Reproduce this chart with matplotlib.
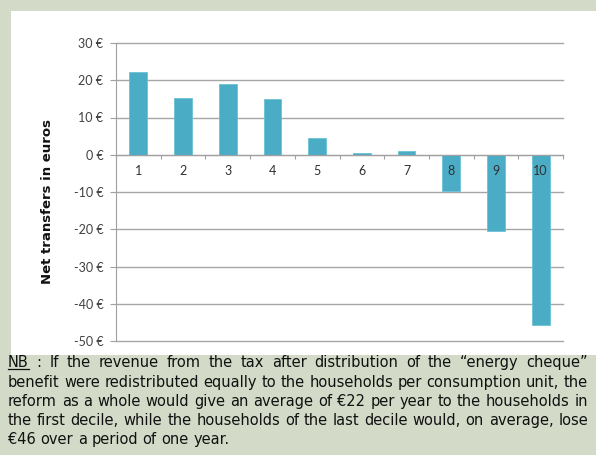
import matplotlib
matplotlib.use("Agg")
import matplotlib.pyplot as plt
from matplotlib.patches import Rectangle
from matplotlib.lines import Line2D

deciles = ["1", "2", "3", "4", "5", "6", "7", "8", "9", "10"]
transfers = [22.3, 15.3, 19.1, 15.1, 4.6, 0.5, 1.0, -9.7, -20.4, -45.8]
yticks = [30, 20, 10, 0, -10, -20, -30, -40, -50]
ylabels = [f"{v} €" for v in yticks]

caption = [
    "NB : If the revenue from the tax after distribution of the \u201cenergy cheque\u201d",
    "benefit were redistributed equally to the households per consumption unit, the",
    "reform as a whole would give an average of €22 per year to the households in",
    "the first decile, while the households of the last decile would, on average, lose",
    "€46 over a period of one year.",
]

W, H = 596, 455
fig = plt.figure(figsize=(W / 100, H / 100), dpi=100)
fig.patch.set_facecolor("#d3dbc8")

# white panel behind the chart
fig.patches.append(Rectangle((11 / W, 1 - 355 / H), 585 / W, 344 / H,
                             transform=fig.transFigure, facecolor="white",
                             edgecolor="none", zorder=-1))

ax = fig.add_axes([116 / W, 1 - 341 / H, 447 / W, 298 / H])
ax.set_zorder(2)
ax.set_facecolor("none")
x = list(range(1, len(deciles) + 1))
ax.bar(x, transfers, width=0.4, color="#4bacc6", edgecolor="#6cc0d6",
       linewidth=0.6, zorder=2)

ax.set_xlim(0.5, len(deciles) + 0.5)
ax.set_ylim(-50, 30)
ax.set_yticks(yticks)
ax.set_yticklabels(ylabels, fontfamily="Lato", fontsize=9, color="#404040")
ax.tick_params(axis="y", length=4, color="#a0a0a0", pad=5)
ax.yaxis.grid(True, color="#a6a6a6", linewidth=1)
for gl in ax.yaxis.get_gridlines():
    gl.set_clip_on(False)
ax.set_axisbelow(True)

for s in ["top", "right"]:
    ax.spines[s].set_visible(False)
ax.spines["left"].set_color("#a0a0a0")
ax.spines["bottom"].set_position(("data", 0))
ax.spines["bottom"].set_color("#a0a0a0")
ax.spines["bottom"].set_zorder(3)
ax.set_xticks([i + 0.5 for i in range(len(deciles) + 1)])
ax.set_xticklabels([])
ax.tick_params(axis="x", length=3, color="#a0a0a0", direction="out")

for xi, lab in zip(x, deciles):
    ax.annotate(lab, (xi, 0), xytext=(0, -12), textcoords="offset points",
                ha="center", va="center", fontfamily="Lato", fontsize=9,
                color="#303030", zorder=5)

fig.text(48 / W, 1 - 202 / H, "Net transfers in euros", rotation=90,
         ha="center", va="center", fontsize=9.5, fontweight="bold",
         fontfamily="DejaVu Sans", color="#111111")

# justified caption
renderer = fig.canvas.get_renderer()
left, right = 8, 588
baselines = [367, 387, 406, 425, 444]
cap_kw = dict(fontsize=10.5, fontfamily="DejaVu Sans", color="#111111",
              va="baseline")
for li, (line, yp) in enumerate(zip(caption, baselines)):
    words = line.split(" ")
    texts = [fig.text(0, 1 - yp / H, w, **cap_kw) for w in words]
    widths = [t.get_window_extent(renderer).width for t in texts]
    if li < len(caption) - 1:
        gap = (right - left - sum(widths)) / (len(words) - 1)
    else:
        gap = 0.32 * cap_kw["fontsize"] * 100 / 72
    xp = left
    for t, w in zip(texts, widths):
        t.set_x(xp / W)
        xp += w + gap
    if li == 0:
        bb = texts[0].get_window_extent(renderer)
        fig.lines.append(Line2D([bb.x0 / W, bb.x1 / W],
                                [(H - yp - 2) / H] * 2,
                                transform=fig.transFigure,
                                color="#111111", linewidth=0.9))

fig.savefig("out.png", dpi=100, facecolor=fig.get_facecolor())
